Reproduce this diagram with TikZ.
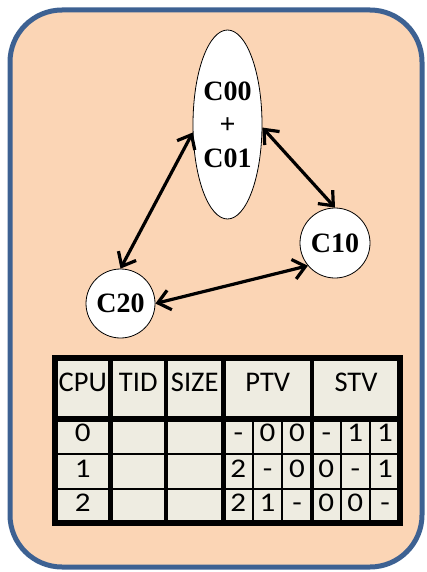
\documentclass[tikz,border=0pt]{standalone}
\usepackage{fontspec}
\setmainfont{Liberation Serif}
\newfontfamily\tablefont[Numbers=Lining]{Carlito}
\newfontfamily\digitfont[Numbers=Lining,FakeStretch=1.15]{Carlito}
\usetikzlibrary{arrows.meta,shapes.geometric}

\definecolor{panelfill}{HTML}{FBD5B5}
\definecolor{panelline}{HTML}{3D6192}
\definecolor{cellfill}{HTML}{EEECE1}

\tikzset{
  procnode/.style={draw=black, line width=0.8pt, fill=white, inner sep=0pt,
    font=\bfseries\fontsize{28}{33.5}\selectfont, align=center},
  link/.style={line width=3.2pt,
    {Straight Barb[length=12pt,width=20pt]}-{Straight Barb[length=12pt,width=20pt]}},
  headtext/.style={font=\tablefont\fontsize{28.5}{30}\selectfont, inner sep=0pt,
    text height=0.64em, text depth=0pt},
  celltext/.style={font=\digitfont\fontsize{27}{28}\selectfont, inner sep=0pt,
    text height=0.64em, text depth=0pt},
  thinrule/.style={line width=2pt},
  colrule/.style={line width=4.3pt},
  framerule/.style={line width=5.5pt}
}

\begin{document}
\begin{tikzpicture}[x=1pt,y=-1pt]
  \useasboundingbox (0,0) rectangle (426,572);

  % rounded panel
  \draw[line width=5pt, draw=panelline, fill=panelfill, rounded corners=52pt]
    (10,10) rectangle (422,567);

  % cores
  \node[procnode, ellipse, minimum width=69pt, minimum height=189pt]
    (c0) at (227.5,124.5) {C00\\+\\C01};
  \node[procnode, circle, minimum size=70pt] (c10) at (335,243) {C10};
  \node[procnode, circle, minimum size=69pt] (c20) at (120.5,303.5) {C20};

  % links between cores
  \draw[link] (c0.193) -- (c20.north);
  \draw[link] (c0.-5) -- (c10.north);
  \draw[link] (c20.east) -- (c10.220);

  % table body
  \fill[cellfill] (55,358) rectangle (400,523);
  \foreach \yy in {454,489}
    \draw[thinrule] (55,\yy) -- (400,\yy);
  \foreach \xx in {253,282,340.5,370}
    \draw[thinrule] (\xx,419) -- (\xx,523);
  \foreach \xx in {110.5,166,223.5,312}
    \draw[colrule] (\xx,358) -- (\xx,523);
  \draw[framerule] (55,419) -- (400,419);
  \draw[framerule] (55,358) rectangle (400,523);

  % header
  \node[headtext] (hcpu)  at (82.75,388.5)  {CPU};
  \node[headtext] (htid)  at (138.25,388.5) {TID};
  \node[headtext] (hsize) at (194.75,388.5) {SIZE};
  \node[headtext] (hptv)  at (267.75,388.5) {PTV};
  \node[headtext] (hstv)  at (356,388.5)    {STV};

  % rows
  \node[celltext] (r0cpu) at (82.75,438.5) {0};
  \node[celltext] (r1cpu) at (82.75,474)   {1};
  \node[celltext] (r2cpu) at (82.75,508)   {2};

  \node[celltext] (r0p0) at (238.25,438.5) {-};
  \node[celltext] (r0p1) at (267.5,438.5)  {0};
  \node[celltext] (r0p2) at (297,438.5)    {0};
  \node[celltext] (r0s0) at (326.25,438.5) {-};
  \node[celltext] (r0s1) at (355.25,438.5) {1};
  \node[celltext] (r0s2) at (385,438.5)    {1};

  \node[celltext] (r1p0) at (238.25,474) {2};
  \node[celltext] (r1p1) at (267.5,474)  {-};
  \node[celltext] (r1p2) at (297,474)    {0};
  \node[celltext] (r1s0) at (326.25,474) {0};
  \node[celltext] (r1s1) at (355.25,474) {-};
  \node[celltext] (r1s2) at (385,474)    {1};

  \node[celltext] (r2p0) at (238.25,508) {2};
  \node[celltext] (r2p1) at (267.5,508)  {1};
  \node[celltext] (r2p2) at (297,508)    {-};
  \node[celltext] (r2s0) at (326.25,508) {0};
  \node[celltext] (r2s1) at (355.25,508) {0};
  \node[celltext] (r2s2) at (385,508)    {-};
\end{tikzpicture}
\end{document}
